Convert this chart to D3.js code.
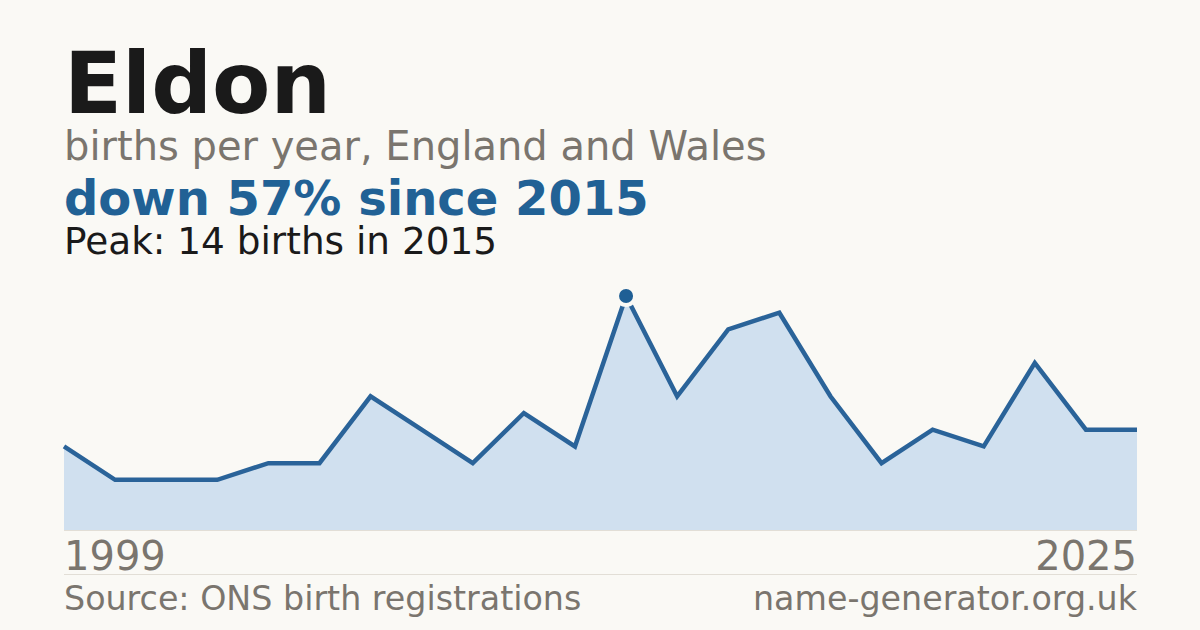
<!DOCTYPE html>
<html lang="en">
<head>
    <meta charset="UTF-8">
    <title>Eldon births per year</title>
    <script src="https://d3js.org/d3.v7.min.js"></script>
    <style>
        html, body {
            margin: 0;
            padding: 0;
            background-color: #faf9f5;
        }
        svg {
            display: block;
            font-family: "DejaVu Sans", sans-serif;
        }
    </style>
</head>
<body>
    <div id="chart"></div>

    <script>
        // years with registrations (plotted evenly, one point each)
        const years = [1999, 2001, 2002, 2004, 2005, 2007, 2008, 2009, 2011, 2012, 2014,
                       2015, 2016, 2017, 2018, 2019, 2020, 2021, 2022, 2023, 2024, 2025];
        const births = [5, 3, 3, 3, 4, 4, 8, 6, 4, 7, 5,
                        14, 8, 12, 13, 8, 4, 6, 5, 10, 6, 6];
        const axisLabels = [1999, 2025];

        const width = 1200, height = 630;
        const left = 64, right = 1137;
        const baseY = 530, topY = 296;

        const data = years.map((y, i) => ({ year: y, value: births[i] }));
        const peak = data.reduce((a, b) => (b.value > a.value ? b : a));

        const svg = d3.select('#chart').append('svg')
            .attr('width', width)
            .attr('height', height);

        svg.append('rect')
            .attr('width', width)
            .attr('height', height)
            .attr('fill', '#faf9f5');

        const x = d3.scalePoint()
            .domain(years)
            .range([left, right]);

        const y = d3.scaleLinear()
            .domain([0, d3.max(births)])
            .range([baseY, topY]);

        // headings
        svg.append('text')
            .attr('x', 64).attr('y', 113)
            .attr('font-size', 85)
            .attr('font-weight', 'bold')
            .attr('fill', '#1a1a1a')
            .text('Eldon');

        svg.append('text')
            .attr('x', 64).attr('y', 160)
            .attr('font-size', 40)
            .attr('fill', '#7a756e')
            .text('births per year, England and Wales');

        svg.append('text')
            .attr('x', 64).attr('y', 215)
            .attr('font-size', 48)
            .attr('font-weight', 'bold')
            .attr('fill', '#216195')
            .text('down 57% since 2015');

        svg.append('text')
            .attr('x', 64).attr('y', 254)
            .attr('font-size', 37.4)
            .attr('fill', '#1a1a1a')
            .text(`Peak: ${peak.value} births in ${peak.year}`);

        // area + line
        svg.append('path')
            .datum(data)
            .attr('fill', '#d0e0ef')
            .attr('d', d3.area()
                .x(d => x(d.year))
                .y0(baseY)
                .y1(d => y(d.value)));

        svg.append('line')
            .attr('x1', left).attr('x2', right)
            .attr('y1', baseY + 0.5).attr('y2', baseY + 0.5)
            .attr('stroke', '#e2ded6')
            .attr('stroke-width', 1);

        svg.append('path')
            .datum(data)
            .attr('fill', 'none')
            .attr('stroke', '#2a6399')
            .attr('stroke-width', 4.5)
            .attr('stroke-linejoin', 'miter')
            .attr('d', d3.line()
                .x(d => x(d.year))
                .y(d => y(d.value)));

        // peak marker with halo
        svg.append('circle')
            .attr('cx', x(peak.year))
            .attr('cy', y(peak.value))
            .attr('r', 9)
            .attr('fill', '#1f5f95')
            .attr('stroke', '#faf9f5')
            .attr('stroke-width', 4);

        // x labels
        svg.selectAll('.year-label')
            .data(axisLabels)
            .enter()
            .append('text')
            .attr('class', 'year-label')
            .attr('x', d => x(d))
            .attr('y', 570)
            .attr('font-size', 40)
            .attr('fill', '#7a756e')
            .attr('text-anchor', (d, i) => (i === 0 ? 'start' : 'end'))
            .text(d => d);

        svg.append('line')
            .attr('x1', left).attr('x2', right)
            .attr('y1', 574.5).attr('y2', 574.5)
            .attr('stroke', '#e2ded6')
            .attr('stroke-width', 1);

        // footer
        svg.append('text')
            .attr('x', 64).attr('y', 610)
            .attr('font-size', 33.3)
            .attr('fill', '#7a756e')
            .text('Source: ONS birth registrations');

        svg.append('text')
            .attr('x', right).attr('y', 610)
            .attr('font-size', 33.3)
            .attr('fill', '#7a756e')
            .attr('text-anchor', 'end')
            .text('name-generator.org.uk');
    </script>
</body>
</html>
